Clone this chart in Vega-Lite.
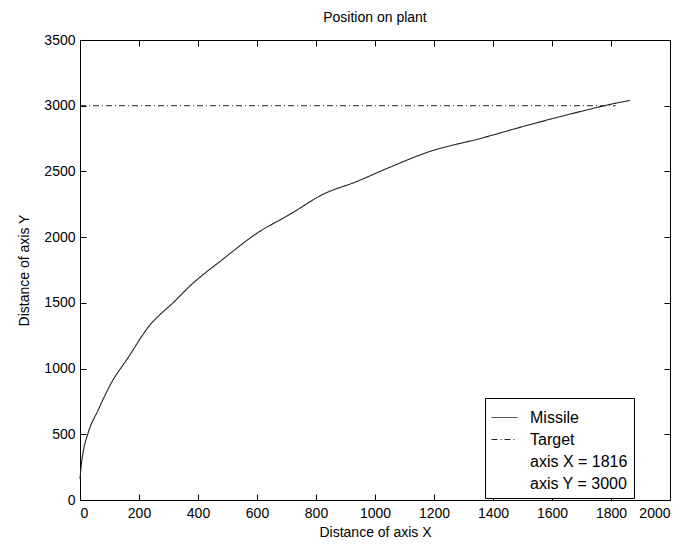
{
  "$schema": "https://vega.github.io/schema/vega-lite/v6.json",
  "width": 590,
  "height": 460,
  "autosize": {"type": "none"},
  "padding": {"left": 80, "top": 40, "right": 21, "bottom": 48},
  "background": "white",
  "config": {
    "view": {"stroke": "black", "strokeWidth": 1},
    "font": "Liberation Sans",
    "axis": {
      "grid": false,
      "domainColor": "black",
      "tickColor": "black",
      "labelColor": "black",
      "titleColor": "black",
      "labelFont": "Liberation Sans",
      "titleFont": "Liberation Sans",
      "labelFontSize": 14,
      "titleFontSize": 14,
      "titleFontWeight": "normal",
      "format": "d"
    },
    "legend": {
      "labelFont": "Liberation Sans",
      "labelFontSize": 16,
      "labelColor": "black"
    }
  },
  "title": {
    "text": "Position on plant",
    "fontSize": 14,
    "fontWeight": "normal",
    "font": "Liberation Sans",
    "color": "black",
    "offset": 8
  },
  "datasets": {
    "missile": [
      {"series": "Missile", "x": 0, "y": 160},
      {"series": "Missile", "x": 4, "y": 260},
      {"series": "Missile", "x": 10, "y": 356},
      {"series": "Missile", "x": 27, "y": 507},
      {"series": "Missile", "x": 61, "y": 682},
      {"series": "Missile", "x": 105, "y": 886},
      {"series": "Missile", "x": 163, "y": 1083},
      {"series": "Missile", "x": 230, "y": 1311},
      {"series": "Missile", "x": 322, "y": 1515},
      {"series": "Missile", "x": 373, "y": 1629},
      {"series": "Missile", "x": 485, "y": 1833},
      {"series": "Missile", "x": 600, "y": 2030},
      {"series": "Missile", "x": 712, "y": 2174},
      {"series": "Missile", "x": 824, "y": 2326},
      {"series": "Missile", "x": 939, "y": 2424},
      {"series": "Missile", "x": 1041, "y": 2523},
      {"series": "Missile", "x": 1186, "y": 2652},
      {"series": "Missile", "x": 1356, "y": 2750},
      {"series": "Missile", "x": 1525, "y": 2856},
      {"series": "Missile", "x": 1695, "y": 2955},
      {"series": "Missile", "x": 1807, "y": 3015},
      {"series": "Missile", "x": 1864, "y": 3040}
    ],
    "target": [
      {"series": "Target", "x": 0, "y": 3000},
      {"series": "Target", "x": 1816, "y": 3000}
    ]
  },
  "layer": [
    {
      "data": {"name": "missile"},
      "mark": {"type": "line", "strokeWidth": 1.1, "interpolate": "monotone"},
      "encoding": {
        "x": {
          "field": "x", "type": "quantitative",
          "scale": {"domain": [0, 2000], "nice": false},
          "axis": {"title": "Distance of axis X", "values": [0,200,400,600,800,1000,1200,1400,1600,1800,2000], "tickSize": -6, "tickWidth": 1, "labelPadding": 12, "titlePadding": 5}
        },
        "y": {
          "field": "y", "type": "quantitative",
          "scale": {"domain": [0, 3500], "nice": false},
          "axis": {"title": "Distance of axis Y", "values": [0,500,1000,1500,2000,2500,3000,3500], "tickSize": -6, "tickWidth": 1, "labelPadding": 11, "titlePadding": 12}
        },
        "color": {
          "field": "series", "type": "nominal",
          "scale": {"domain": ["Missile", "Target", "axis X = 1816", "axis Y = 3000"], "range": ["#222222", "#222222", "#ffffff00", "#ffffff00"]},
          "legend": {
            "title": null, "orient": "none", "legendX": 405, "legendY": 358,
            "symbolType": "stroke", "symbolSize": 676, "symbolStrokeWidth": 1,
            "strokeColor": "black", "fillColor": "white", "padding": 6,
            "labelOffset": 12, "rowPadding": -6
          }
        },
        "strokeDash": {
          "field": "series", "type": "nominal",
          "scale": {"domain": ["Missile", "Target", "axis X = 1816", "axis Y = 3000"], "range": [[1, 0], [6, 3, 1, 3], [1, 0], [1, 0]]},
          "legend": {
            "title": null, "orient": "none", "legendX": 405, "legendY": 358,
            "symbolType": "stroke", "symbolSize": 676, "symbolStrokeWidth": 1,
            "strokeColor": "black", "fillColor": "white", "padding": 6,
            "labelOffset": 12, "rowPadding": -6
          }
        }
      }
    },
    {
      "data": {"name": "target"},
      "mark": {"type": "line", "strokeWidth": 1},
      "encoding": {
        "x": {
          "field": "x", "type": "quantitative",
          "axis": {"orient": "top", "title": null, "labels": false, "domain": false, "ticks": true, "tickWidth": 1, "tickSize": -6, "values": [0,200,400,600,800,1000,1200,1400,1600,1800,2000]}
        },
        "y": {
          "field": "y", "type": "quantitative",
          "axis": {"orient": "right", "title": null, "labels": false, "domain": false, "ticks": true, "tickWidth": 1, "tickSize": -6, "values": [0,500,1000,1500,2000,2500,3000,3500]}
        },
        "color": {"field": "series", "type": "nominal"},
        "strokeDash": {"field": "series", "type": "nominal"}
      }
    }
  ],
  "resolve": {"axis": {"x": "independent", "y": "independent"}}
}
